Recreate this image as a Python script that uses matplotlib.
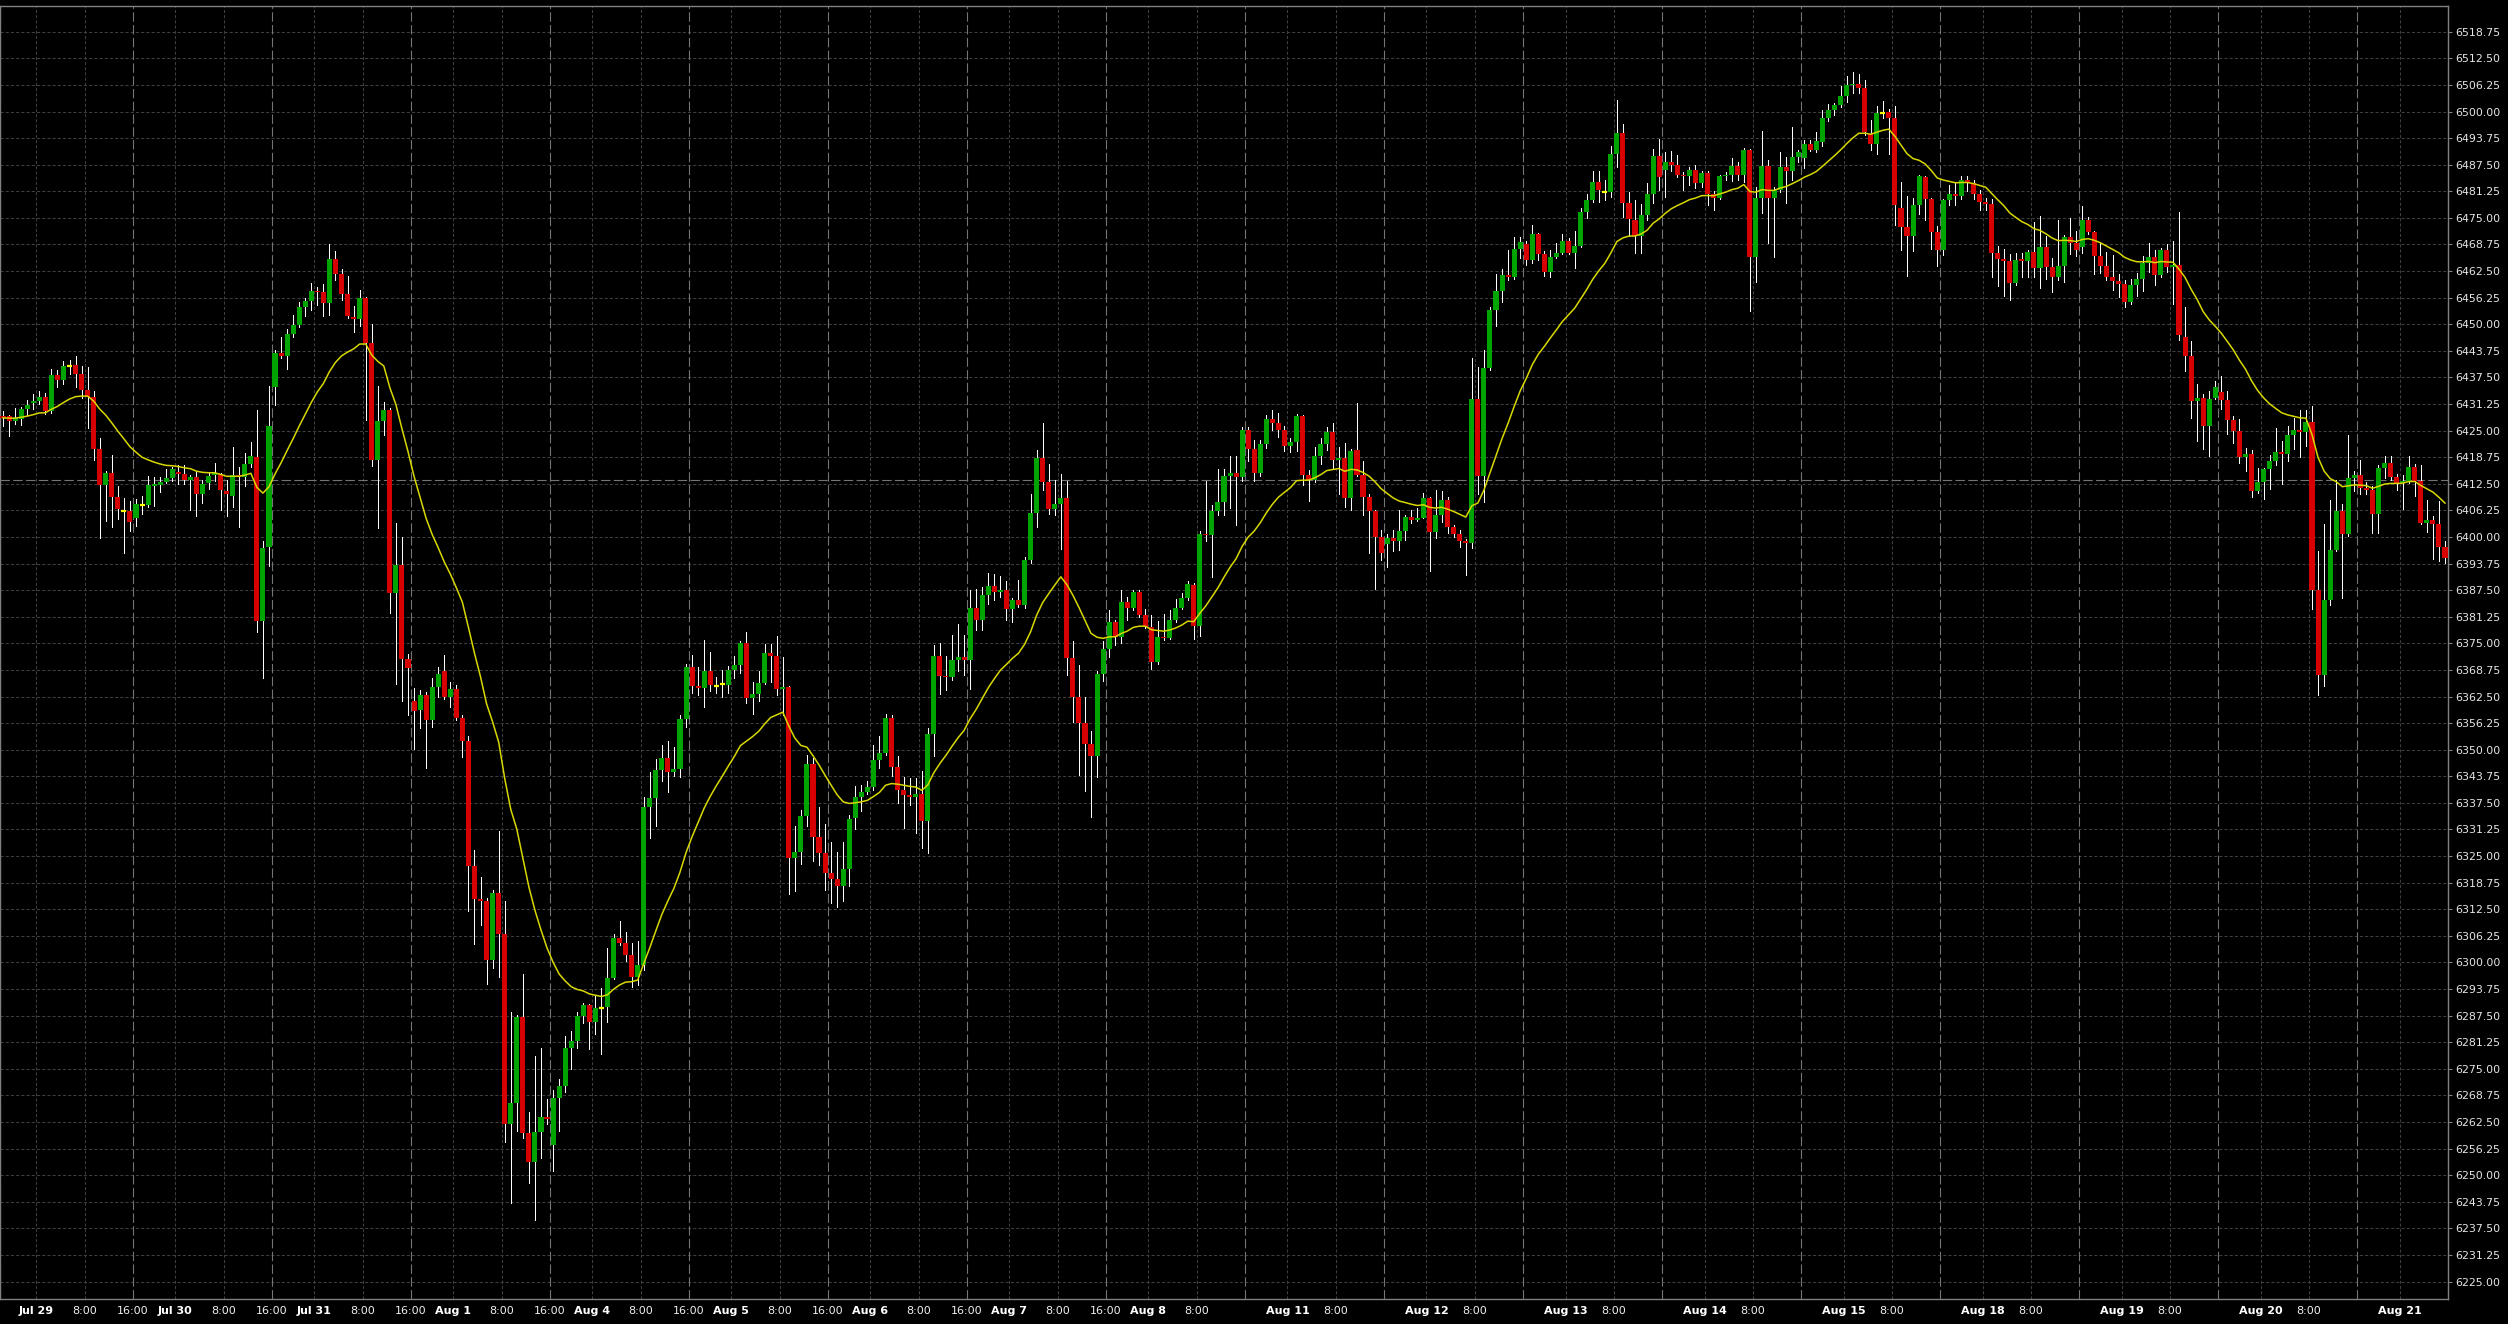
import numpy as np
import pandas as pd
import matplotlib
matplotlib.use('Agg')
import matplotlib.pyplot as plt

# ES futures, hourly bars; one session = 18:00 prev day .. 16:00 (23 bars)
SESSIONS = ['2025-07-29', '2025-07-30', '2025-07-31', '2025-08-01', '2025-08-04',
            '2025-08-05', '2025-08-06', '2025-08-07', '2025-08-08', '2025-08-11',
            '2025-08-12', '2025-08-13', '2025-08-14', '2025-08-15', '2025-08-18',
            '2025-08-19', '2025-08-20', '2025-08-21']

OPENS = [
    # Jul 29
    6428.5, 6428.5, 6427.25, 6427.75, 6430.0, 6431.5, 6432.0, 6433.0, 6429.5, 6438.0, 6437.0, 6440.25,
    6440.5, 6438.25, 6434.5, 6433.0, 6420.75, 6412.25, 6415.0, 6409.5, 6406.0, 6406.0, 6404.5,
    # Jul 30
    6407.5, 6407.5, 6412.0, 6412.25, 6413.0, 6413.75, 6415.25, 6414.75, 6413.5, 6414.0, 6410.0, 6412.75,
    6414.5, 6414.75, 6410.75, 6409.75, 6414.5, 6414.0, 6417.25, 6418.75, 6380.25, 6397.75, 6435.25,
    # Jul 31
    6443.25, 6442.5, 6447.75, 6449.75, 6454.0, 6455.5, 6457.75, 6457.5, 6455.0, 6465.25, 6461.75, 6457.0,
    6451.75, 6451.25, 6456.25, 6445.5, 6418.0, 6427.25, 6429.75, 6386.75, 6393.5, 6371.25, 6361.5,
    # Aug 1
    6359.25, 6362.75, 6357.0, 6364.75, 6368.5, 6362.5, 6364.25, 6357.5, 6352.0, 6322.75, 6315.0, 6314.5,
    6300.5, 6316.25, 6306.75, 6262.0, 6267.0, 6287.25, 6260.0, 6253.0, 6260.25, 6263.75, 6257.0,
    # Aug 4
    6268.25, 6271.0, 6280.0, 6281.5, 6287.5, 6290.0, 6286.0, 6289.25, 6289.5, 6296.25, 6305.75, 6304.5,
    6301.75, 6296.5, 6299.5, 6336.5, 6338.75, 6345.25, 6348.0, 6344.75, 6345.5, 6357.25, 6369.5,
    # Aug 5
    6365.0, 6364.5, 6368.5, 6365.0, 6365.5, 6365.25, 6368.75, 6370.0, 6375.0, 6362.25, 6363.0, 6365.75,
    6372.75, 6372.0, 6364.25, 6364.75, 6324.5, 6326.0, 6334.5, 6346.75, 6329.5, 6325.75, 6321.0,
    # Aug 6
    6319.5, 6318.0, 6322.0, 6334.0, 6339.0, 6340.0, 6341.25, 6347.5, 6349.25, 6357.5, 6346.0, 6340.5,
    6339.25, 6339.0, 6339.5, 6333.25, 6353.75, 6372.0, 6367.25, 6367.0, 6371.0, 6371.75, 6371.0,
    # Aug 7
    6383.25, 6380.5, 6386.25, 6388.5, 6387.0, 6387.5, 6383.0, 6385.25, 6384.0, 6394.5, 6405.75, 6418.5,
    6413.0, 6406.5, 6407.75, 6409.25, 6371.5, 6362.5, 6356.25, 6351.25, 6348.5, 6367.75, 6373.75,
    # Aug 8
    6380.0, 6376.5, 6384.75, 6383.25, 6387.0, 6381.75, 6378.75, 6370.5, 6376.5, 6376.25, 6380.5, 6383.25,
    6385.75, 6388.75, 6379.0, 6400.75, 6400.5, 6406.0, 6408.25, 6414.25, 6415.0, 6414.0, 6425.25,
    # Aug 11
    6420.75, 6415.0, 6421.75, 6427.75, 6426.75, 6425.25, 6421.5, 6422.25, 6428.5, 6414.5, 6413.5, 6419.0,
    6421.75, 6424.75, 6418.0, 6418.5, 6409.25, 6420.5, 6414.5, 6409.5, 6406.0, 6400.0, 6398.25,
    # Aug 12
    6399.75, 6399.0, 6401.5, 6404.75, 6404.0, 6404.5, 6409.25, 6401.25, 6405.25, 6408.75, 6402.25, 6400.75,
    6399.0, 6398.5, 6432.5, 6414.25, 6439.75, 6453.25, 6457.75, 6461.5, 6461.0, 6467.75, 6468.75,
    # Aug 13
    6465.0, 6471.25, 6466.5, 6462.25, 6465.75, 6466.75, 6469.5, 6466.75, 6468.5, 6476.5, 6479.25, 6483.5,
    6481.0, 6481.0, 6490.0, 6495.0, 6478.5, 6474.5, 6470.75, 6475.75, 6480.5, 6489.5, 6486.25,
    # Aug 14
    6488.25, 6487.5, 6485.0, 6484.75, 6486.25, 6483.25, 6485.5, 6480.5, 6479.75, 6484.75, 6485.0, 6487.25,
    6485.0, 6491.0, 6465.75, 6479.75, 6487.25, 6479.75, 6481.5, 6487.0, 6486.0, 6489.25, 6489.0,
    # Aug 15
    6492.25, 6491.0, 6492.75, 6498.5, 6500.25, 6501.5, 6503.75, 6506.25, 6506.5, 6505.5, 6494.75, 6492.25,
    6499.75, 6500.0, 6498.5, 6477.25, 6472.75, 6470.75, 6478.0, 6484.5, 6479.5, 6471.75, 6467.5,
    # Aug 18
    6479.25, 6480.5, 6480.25, 6484.0, 6483.25, 6480.5, 6478.75, 6478.25, 6466.75, 6465.25, 6464.75, 6459.75,
    6465.25, 6464.75, 6467.0, 6463.25, 6468.25, 6463.5, 6461.0, 6463.75, 6470.5, 6469.0, 6468.25,
    # Aug 19
    6474.5, 6471.75, 6466.0, 6463.75, 6461.0, 6460.25, 6459.5, 6455.25, 6459.25, 6460.75, 6464.5, 6465.75,
    6461.5, 6467.5, 6463.5, 6464.0, 6447.0, 6442.5, 6432.0, 6432.75, 6426.0, 6432.75, 6434.0,
    # Aug 20
    6432.25, 6427.5, 6425.0, 6418.75, 6419.5, 6410.75, 6413.0, 6416.0, 6417.75, 6420.0, 6419.5, 6424.0,
    6425.25, 6424.75, 6427.0, 6387.5, 6367.5, 6385.25, 6397.0, 6406.0, 6400.75, 6413.75, 6414.5,
    # Aug 21
    6411.5, 6411.0, 6405.5, 6416.25, 6417.5, 6414.0, 6412.75, 6413.25, 6416.5, 6413.25, 6403.25, 6404.0,
    6403.0, 6397.75,
]

HIGHS = [
    6429.5, 6428.75, 6430.25, 6430.5, 6432.25, 6433.5, 6434.25, 6433.75, 6439.5, 6439.25, 6441.25, 6441.5,
    6442.5, 6440.25, 6440.0, 6434.25, 6423.25, 6415.5, 6419.25, 6412.0, 6409.25, 6408.5, 6409.0,
    6409.75, 6414.25, 6414.0, 6414.0, 6416.0, 6416.5, 6417.0, 6417.0, 6414.5, 6415.5, 6413.5, 6415.0,
    6417.5, 6415.0, 6413.5, 6421.25, 6416.5, 6419.75, 6422.25, 6429.75, 6399.0, 6435.5, 6444.0,
    6447.0, 6449.0, 6452.25, 6455.25, 6456.25, 6459.75, 6458.75, 6459.5, 6468.75, 6467.25, 6463.0, 6461.25,
    6454.25, 6458.0, 6456.5, 6450.0, 6435.5, 6431.75, 6430.25, 6403.25, 6400.0, 6372.5, 6364.5,
    6364.0, 6363.5, 6366.75, 6369.5, 6372.25, 6366.0, 6365.25, 6358.25, 6353.25, 6326.5, 6320.0, 6315.25,
    6317.0, 6331.0, 6314.5, 6288.25, 6287.75, 6297.25, 6264.75, 6278.0, 6280.0, 6268.0, 6270.0,
    6272.5, 6282.75, 6284.0, 6288.25, 6290.5, 6290.25, 6292.0, 6294.0, 6303.5, 6306.75, 6309.75, 6307.25,
    6304.5, 6305.0, 6339.0, 6344.75, 6347.75, 6351.0, 6352.0, 6350.75, 6358.25, 6370.25, 6372.25,
    6369.5, 6375.75, 6373.0, 6367.0, 6368.75, 6369.75, 6372.0, 6375.5, 6377.75, 6366.0, 6368.5, 6374.75,
    6374.75, 6376.75, 6371.75, 6365.0, 6332.0, 6335.75, 6348.75, 6348.0, 6336.5, 6332.5, 6328.25,
    6326.0, 6328.25, 6334.75, 6341.5, 6341.75, 6342.75, 6351.0, 6353.25, 6358.5, 6358.25, 6348.5, 6343.5,
    6343.25, 6343.25, 6345.0, 6355.0, 6374.5, 6375.0, 6372.0, 6377.0, 6379.5, 6377.0, 6387.5,
    6387.75, 6388.25, 6391.5, 6391.25, 6390.75, 6389.75, 6385.75, 6390.0, 6395.25, 6410.0, 6420.5, 6426.75,
    6417.25, 6413.5, 6414.75, 6413.25, 6375.5, 6370.0, 6362.5, 6354.5, 6368.5, 6375.5, 6382.75,
    6380.5, 6387.5, 6386.0, 6387.5, 6387.5, 6383.0, 6381.75, 6380.25, 6382.0, 6382.75, 6385.5, 6386.75,
    6389.75, 6389.25, 6401.5, 6413.25, 6407.5, 6416.0, 6416.0, 6419.0, 6419.0, 6425.75, 6425.75,
    6422.75, 6422.75, 6428.75, 6429.75, 6429.25, 6426.0, 6423.25, 6429.0, 6428.75, 6415.75, 6421.25, 6423.25,
    6425.75, 6426.75, 6421.25, 6422.0, 6420.75, 6431.5, 6417.75, 6410.0, 6406.25, 6401.75, 6400.75,
    6401.75, 6406.25, 6405.25, 6406.25, 6406.75, 6410.25, 6409.5, 6411.0, 6410.75, 6409.5, 6402.75, 6401.75,
    6399.5, 6442.0, 6440.0, 6444.0, 6454.0, 6461.75, 6463.0, 6467.5, 6470.5, 6470.5, 6469.5,
    6473.25, 6471.5, 6467.25, 6467.5, 6469.0, 6471.25, 6470.25, 6472.0, 6477.25, 6480.5, 6486.0, 6486.0,
    6484.0, 6492.0, 6502.75, 6497.0, 6481.0, 6479.25, 6478.25, 6483.25, 6491.25, 6493.5, 6490.5,
    6490.75, 6489.75, 6485.75, 6487.0, 6487.5, 6486.0, 6486.0, 6481.25, 6485.0, 6485.75, 6489.0, 6488.25,
    6491.5, 6491.25, 6482.25, 6495.5, 6488.5, 6482.25, 6490.5, 6489.25, 6496.25, 6491.0, 6493.25,
    6493.25, 6495.25, 6500.25, 6501.75, 6502.0, 6506.0, 6508.25, 6509.25, 6508.75, 6507.5, 6498.0, 6501.25,
    6502.5, 6500.5, 6501.25, 6483.5, 6480.25, 6479.75, 6485.0, 6484.75, 6479.75, 6473.0, 6479.5,
    6482.75, 6483.25, 6484.75, 6484.75, 6484.0, 6481.5, 6479.75, 6479.5, 6468.5, 6467.75, 6466.5, 6466.75,
    6466.75, 6467.5, 6474.0, 6475.5, 6470.75, 6465.5, 6474.5, 6471.0, 6475.0, 6472.0, 6477.75,
    6475.25, 6472.0, 6469.25, 6467.0, 6466.25, 6461.75, 6460.5, 6460.75, 6462.0, 6466.0, 6469.0, 6467.5,
    6468.0, 6468.75, 6469.5, 6476.5, 6454.0, 6446.0, 6436.0, 6433.5, 6434.25, 6436.75, 6437.75,
    6434.25, 6428.5, 6427.75, 6421.0, 6420.5, 6416.25, 6416.25, 6419.25, 6425.5, 6422.5, 6426.0, 6428.0,
    6429.75, 6429.75, 6430.75, 6396.75, 6403.0, 6408.75, 6413.5, 6407.75, 6424.0, 6415.5, 6418.0,
    6413.0, 6412.0, 6417.0, 6419.0, 6419.0, 6414.75, 6414.5, 6419.0, 6417.25, 6417.0, 6408.75, 6405.0,
    6408.5, 6399.0,
]

LOWS = [
    6426.0, 6423.75, 6426.5, 6426.25, 6428.75, 6430.0, 6431.25, 6429.0, 6429.25, 6435.25, 6436.0, 6438.25,
    6435.25, 6432.75, 6425.5, 6418.0, 6399.75, 6403.75, 6402.25, 6404.25, 6396.25, 6401.5, 6402.5,
    6405.5, 6407.0, 6407.25, 6410.5, 6412.75, 6413.25, 6412.5, 6412.5, 6406.25, 6405.0, 6408.0, 6411.25,
    6413.25, 6406.25, 6405.0, 6407.0, 6402.25, 6412.0, 6416.5, 6377.75, 6366.75, 6393.25, 6431.0,
    6442.0, 6439.5, 6447.0, 6449.25, 6452.0, 6453.25, 6454.5, 6452.0, 6452.25, 6460.5, 6455.75, 6451.5,
    6448.25, 6449.5, 6427.5, 6416.75, 6402.0, 6424.0, 6382.25, 6365.5, 6361.5, 6358.25, 6350.25,
    6355.0, 6345.75, 6355.25, 6362.5, 6362.0, 6360.0, 6357.0, 6348.25, 6312.0, 6304.25, 6308.75, 6295.0,
    6298.75, 6296.5, 6257.75, 6243.5, 6260.5, 6258.75, 6248.25, 6239.5, 6254.0, 6262.0, 6251.0,
    6260.5, 6269.5, 6275.0, 6280.0, 6285.75, 6279.75, 6283.25, 6278.5, 6286.0, 6296.0, 6304.0, 6300.25,
    6294.25, 6294.75, 6298.25, 6329.25, 6332.0, 6342.75, 6340.0, 6343.75, 6343.5, 6355.25, 6363.25,
    6362.75, 6360.0, 6363.75, 6363.25, 6362.5, 6363.25, 6366.75, 6368.0, 6361.0, 6358.5, 6361.5, 6365.5,
    6366.0, 6362.75, 6358.25, 6316.0, 6316.75, 6323.25, 6332.0, 6323.75, 6323.0, 6317.0, 6314.0,
    6313.0, 6314.5, 6318.0, 6331.25, 6335.5, 6339.5, 6340.5, 6345.75, 6348.75, 6343.75, 6337.5, 6331.5,
    6337.0, 6330.5, 6327.0, 6325.75, 6348.5, 6363.0, 6364.0, 6366.5, 6368.5, 6367.5, 6364.25,
    6378.25, 6378.25, 6384.25, 6385.25, 6386.0, 6380.5, 6380.0, 6383.5, 6383.25, 6394.0, 6402.25, 6411.0,
    6405.5, 6405.25, 6397.25, 6367.5, 6356.5, 6344.0, 6340.25, 6334.25, 6343.5, 6366.25, 6371.75,
    6374.5, 6375.0, 6380.5, 6382.75, 6381.25, 6378.5, 6369.0, 6370.25, 6375.75, 6376.0, 6380.0, 6383.0,
    6385.25, 6376.0, 6376.75, 6399.0, 6390.5, 6405.25, 6405.25, 6406.75, 6402.75, 6413.25, 6417.75,
    6413.25, 6414.25, 6421.0, 6425.25, 6423.5, 6420.25, 6420.0, 6420.25, 6412.25, 6408.5, 6413.0, 6417.25,
    6420.5, 6416.0, 6410.0, 6407.0, 6406.25, 6414.25, 6405.25, 6396.25, 6387.75, 6394.5, 6393.0,
    6396.75, 6397.0, 6399.25, 6403.25, 6403.75, 6404.5, 6392.0, 6399.75, 6403.5, 6401.0, 6400.0, 6397.75,
    6391.0, 6397.5, 6410.0, 6408.25, 6439.25, 6449.5, 6455.25, 6460.5, 6460.75, 6465.5, 6464.0,
    6464.5, 6465.0, 6461.25, 6461.0, 6465.5, 6466.5, 6466.5, 6463.25, 6468.25, 6475.0, 6478.75, 6478.75,
    6479.25, 6480.0, 6487.0, 6475.25, 6470.75, 6466.75, 6466.75, 6474.5, 6478.5, 6481.5, 6480.0,
    6486.0, 6484.5, 6481.5, 6482.75, 6482.0, 6482.25, 6478.0, 6476.75, 6479.5, 6484.0, 6483.75, 6484.0,
    6483.5, 6453.0, 6460.0, 6476.25, 6469.0, 6465.75, 6481.0, 6478.5, 6484.0, 6488.25, 6486.75,
    6490.75, 6490.5, 6492.0, 6497.75, 6499.25, 6501.0, 6502.25, 6504.25, 6504.25, 6494.5, 6491.0, 6490.0,
    6498.5, 6490.0, 6473.25, 6467.5, 6461.25, 6467.25, 6476.0, 6474.5, 6467.75, 6463.75, 6466.25,
    6478.0, 6478.0, 6479.5, 6481.25, 6479.5, 6476.75, 6476.75, 6461.0, 6459.0, 6456.75, 6455.75, 6459.25,
    6461.0, 6461.0, 6461.0, 6458.5, 6460.75, 6457.5, 6460.5, 6460.0, 6466.5, 6466.0, 6466.75,
    6471.25, 6461.75, 6462.0, 6460.5, 6458.0, 6456.5, 6454.0, 6454.75, 6456.75, 6457.75, 6462.25, 6459.25,
    6461.0, 6462.25, 6454.75, 6446.25, 6439.0, 6428.0, 6422.5, 6420.75, 6419.0, 6432.5, 6430.0,
    6424.25, 6422.0, 6417.5, 6415.5, 6409.5, 6410.25, 6409.0, 6411.25, 6417.0, 6412.5, 6417.75, 6420.75,
    6418.75, 6421.5, 6383.0, 6362.75, 6365.0, 6384.0, 6396.75, 6385.75, 6400.25, 6410.75, 6410.0,
    6410.0, 6401.0, 6401.0, 6413.75, 6413.5, 6411.0, 6406.5, 6412.75, 6409.75, 6403.0, 6401.25, 6394.75,
    6394.25, 6394.0,
]

CLOSES = [
    6428.0, 6427.25, 6428.0, 6430.0, 6431.0, 6432.0, 6433.0, 6429.5, 6438.0, 6437.0, 6440.25, 6440.25,
    6438.25, 6434.5, 6433.0, 6420.75, 6412.25, 6415.0, 6409.5, 6406.5, 6406.0, 6403.5, 6407.75,
    6407.5, 6412.25, 6412.5, 6413.0, 6413.75, 6416.0, 6414.75, 6413.5, 6414.0, 6410.0, 6412.5, 6414.25,
    6415.0, 6411.0, 6410.0, 6414.5, 6414.0, 6417.25, 6419.0, 6380.25, 6397.5, 6426.0, 6443.25,
    6442.5, 6447.75, 6449.75, 6454.0, 6455.5, 6457.75, 6457.5, 6455.0, 6465.25, 6461.75, 6457.0, 6452.0,
    6451.25, 6456.25, 6445.5, 6418.0, 6427.25, 6429.75, 6386.75, 6393.5, 6371.25, 6369.25, 6359.0,
    6362.75, 6357.0, 6364.75, 6367.75, 6362.5, 6364.25, 6357.5, 6352.0, 6322.75, 6315.0, 6314.5, 6300.5,
    6316.25, 6306.75, 6262.0, 6267.0, 6287.25, 6260.0, 6253.0, 6260.25, 6263.75, 6263.25, 6268.25,
    6271.0, 6280.0, 6281.5, 6287.5, 6290.0, 6286.0, 6289.25, 6289.25, 6296.25, 6305.75, 6304.5, 6301.75,
    6296.5, 6299.5, 6336.5, 6338.75, 6345.25, 6348.0, 6344.75, 6345.5, 6357.25, 6369.5, 6365.0,
    6364.5, 6368.5, 6365.25, 6365.0, 6365.5, 6368.75, 6370.0, 6375.0, 6362.25, 6363.0, 6365.75, 6372.75,
    6372.0, 6364.25, 6364.75, 6324.5, 6326.0, 6334.5, 6346.75, 6329.5, 6325.75, 6321.0, 6319.5,
    6318.0, 6322.0, 6333.75, 6339.0, 6340.0, 6341.25, 6347.5, 6349.25, 6357.5, 6346.0, 6340.5, 6339.25,
    6339.0, 6339.5, 6333.25, 6353.75, 6372.0, 6367.25, 6367.0, 6371.0, 6371.75, 6371.0, 6383.25,
    6380.5, 6386.25, 6388.5, 6387.0, 6387.5, 6383.0, 6385.25, 6384.0, 6394.5, 6405.75, 6418.5, 6413.0,
    6406.5, 6407.75, 6409.25, 6371.5, 6362.5, 6356.25, 6351.25, 6348.5, 6367.75, 6373.75, 6380.0,
    6376.5, 6384.75, 6383.25, 6387.0, 6381.75, 6378.75, 6370.5, 6376.5, 6376.25, 6380.5, 6383.25, 6385.75,
    6389.0, 6379.0, 6400.75, 6400.5, 6406.0, 6408.25, 6414.25, 6415.0, 6414.0, 6425.25, 6420.75,
    6415.0, 6421.75, 6427.75, 6426.75, 6425.25, 6421.5, 6422.25, 6428.5, 6414.5, 6413.5, 6419.0, 6421.75,
    6424.75, 6418.0, 6418.5, 6409.25, 6420.25, 6414.5, 6409.5, 6406.0, 6400.0, 6396.25, 6399.75,
    6399.0, 6401.5, 6404.75, 6404.0, 6404.5, 6409.25, 6401.25, 6405.25, 6408.75, 6402.25, 6400.75, 6399.0,
    6398.5, 6432.5, 6414.25, 6439.75, 6453.25, 6457.75, 6461.5, 6461.0, 6467.75, 6469.25, 6465.0,
    6471.25, 6466.5, 6462.25, 6465.75, 6466.75, 6469.5, 6466.75, 6468.5, 6476.5, 6479.25, 6483.5, 6481.5,
    6481.0, 6490.0, 6495.0, 6478.5, 6474.75, 6470.75, 6475.75, 6480.5, 6489.5, 6484.5, 6488.25,
    6487.5, 6485.0, 6484.75, 6486.25, 6483.25, 6485.5, 6480.5, 6479.75, 6484.75, 6485.0, 6487.25, 6485.0,
    6491.0, 6465.75, 6479.75, 6487.25, 6479.75, 6481.5, 6487.0, 6486.0, 6489.25, 6490.5, 6492.25,
    6491.0, 6493.0, 6498.5, 6500.25, 6501.5, 6503.75, 6506.25, 6506.5, 6505.5, 6495.25, 6492.25, 6499.75,
    6499.75, 6498.5, 6478.0, 6472.75, 6470.75, 6478.0, 6484.75, 6479.5, 6471.75, 6467.5, 6479.25,
    6480.5, 6480.25, 6484.0, 6483.25, 6480.5, 6478.75, 6478.25, 6466.75, 6465.25, 6464.75, 6459.75, 6465.0,
    6464.75, 6467.0, 6463.25, 6468.25, 6463.5, 6461.0, 6463.75, 6470.5, 6469.0, 6467.5, 6474.5,
    6471.75, 6466.0, 6463.75, 6461.0, 6460.25, 6459.5, 6455.25, 6459.25, 6460.75, 6464.5, 6465.75, 6461.5,
    6467.5, 6463.5, 6464.0, 6447.5, 6442.5, 6432.0, 6432.75, 6426.0, 6432.5, 6435.25, 6432.25,
    6427.5, 6425.0, 6418.75, 6419.5, 6410.75, 6413.0, 6416.0, 6417.75, 6420.0, 6419.5, 6424.0, 6425.25,
    6424.75, 6427.0, 6387.5, 6367.5, 6385.25, 6397.0, 6406.0, 6400.75, 6413.75, 6414.5, 6411.5,
    6411.0, 6405.5, 6416.25, 6417.5, 6414.0, 6412.75, 6413.25, 6416.5, 6413.25, 6403.25, 6404.0, 6403.0,
    6397.75, 6395.0,
]

REF_PRICE = 6413.5          # dashed horizontal reference line
MA_SPAN = 20                # exponential moving average of closes
LAST_AFTERNOON_LABEL = '2025-08-07'   # 16:00 labels are shown up to this day
Y_TICKS = np.arange(6225.0, 6519.0, 6.25)
Y_RANGE = (6220.9, 6524.8)

GREEN = '#00a400'
RED = '#d60000'
DOJI = '#ffff00'
MA_COLOR = '#d8d800'
GRID = '#3e3e3e'
SESSION_LINE = '#747474'
FRAME = '#808080'


def bar_times(n):
    out = []
    for d in SESSIONS:
        day = pd.Timestamp(d)
        for h in list(range(-6, 0)) + list(range(0, 17)):
            out.append(day + pd.Timedelta(hours=h))
    return out[:n]


def main():
    n = min(len(OPENS), len(HIGHS), len(LOWS), len(CLOSES))
    o = np.array(OPENS[:n])
    h = np.array(HIGHS[:n])
    l = np.array(LOWS[:n])
    c = np.array(CLOSES[:n])
    x = np.arange(n)
    times = bar_times(n)
    ma = pd.Series(c).ewm(span=MA_SPAN, adjust=False).mean()

    fig = plt.figure(figsize=(25.08, 13.24), dpi=100, facecolor='black')
    ax = fig.add_axes([0, 25 / 1324, 2448 / 2508, 1293 / 1324], facecolor='black')

    # grid
    for y in Y_TICKS:
        ax.axhline(y, color=GRID, lw=0.75, ls=(0, (3, 2)), zorder=0)
    tick_pos, tick_lab, tick_bold = [], [], []
    for i, t in enumerate(times):
        if t.hour not in (0, 8, 16):
            continue
        if t.hour == 16:
            ax.axvline(i - 0.5, color=SESSION_LINE, lw=0.8, ls=(0, (8.5, 3)), zorder=0)
        else:
            ax.axvline(i - 0.5, color=GRID, lw=0.75, ls=(0, (3, 2)), zorder=0)
        if t.hour == 0:
            tick_pos.append(i - 0.5)
            tick_lab.append(f"{t:%b} {t.day}")
            tick_bold.append(True)
        elif t.hour == 8 or t <= pd.Timestamp(LAST_AFTERNOON_LABEL) + pd.Timedelta(hours=16):
            tick_pos.append(i - 0.5)
            tick_lab.append(f"{t.hour}:00")
            tick_bold.append(False)
    ax.axhline(REF_PRICE, color=SESSION_LINE, lw=0.8, ls=(0, (8.5, 3)), zorder=1)

    # candles
    up = c > o
    dn = c < o
    flat = c == o
    ax.vlines(x, l, h, color='white', lw=0.72, zorder=2, antialiased=False)
    ax.bar(x[up], (c - o)[up], bottom=o[up], width=0.84, color=GREEN, lw=0, zorder=3)
    ax.bar(x[dn], (o - c)[dn], bottom=c[dn], width=0.84, color=RED, lw=0, zorder=3)
    ax.hlines(c[flat], x[flat] - 0.42, x[flat] + 0.42, color=DOJI, lw=1.6, zorder=3)

    ax.plot(x, ma, color=MA_COLOR, lw=1.1, zorder=4)

    ax.set_xlim(-0.5, n - 0.5)
    ax.set_ylim(*Y_RANGE)

    ax.yaxis.tick_right()
    ax.set_yticks(Y_TICKS)
    ax.set_yticklabels([f"{v:.2f}" for v in Y_TICKS])
    ax.tick_params(axis='y', colors=FRAME, labelcolor='#e6e6e6', labelsize=7.9,
                   length=3, width=0.8, pad=2)
    ax.set_xticks(tick_pos)
    ax.set_xticklabels(tick_lab)
    ax.tick_params(axis='x', length=0, labelcolor='#f0f0f0', labelsize=8, pad=5)
    for lab, b in zip(ax.get_xticklabels(), tick_bold):
        if b:
            lab.set_fontweight('bold')
            lab.set_color('white')

    for s in ax.spines.values():
        s.set_color(FRAME)
        s.set_linewidth(1.0)

    fig.savefig('out.png', dpi=100, facecolor='black')


if __name__ == "__main__":
    main()
